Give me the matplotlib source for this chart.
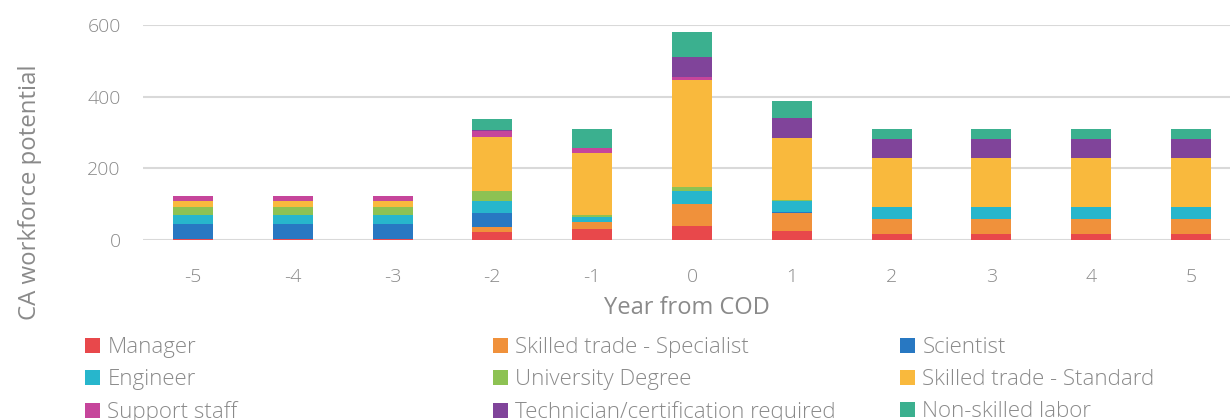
import matplotlib
matplotlib.use("Agg")
import matplotlib.pyplot as plt
from matplotlib.patches import Patch
import numpy as np

years = [-5, -4, -3, -2, -1, 0, 1, 2, 3, 4, 5]
categories = ["Manager", "Skilled trade - Specialist", "Scientist", "Engineer",
              "University Degree", "Skilled trade - Standard", "Support staff",
              "Technician/certification required", "Non-skilled labor"]
manager     = [3, 3, 3, 21, 31, 40, 26, 16, 16, 16, 16]
specialist  = [0, 0, 0, 14, 18, 61, 50, 43, 43, 43, 43]
scientist   = [41, 41, 41, 40, 2, 0, 2, 0, 0, 0, 0]
engineer    = [25, 25, 25, 35, 14, 36, 31, 34, 34, 34, 34]
university  = [22, 22, 22, 26, 6, 12, 3, 0, 0, 0, 0]
standard    = [17, 17, 17, 152, 173, 297, 174, 137, 137, 137, 137]
support     = [14, 14, 14, 16, 14, 10, 0, 0, 0, 0, 0]
technician  = [2, 2, 2, 2, 0, 54, 55, 51, 51, 51, 51]
nonskilled  = [0, 0, 0, 32, 51, 71, 47, 28, 28, 28, 28]
series = [manager, specialist, scientist, engineer, university, standard,
          support, technician, nonskilled]
colors = ["#e8484b", "#f0913b", "#2878c2", "#27b6cc", "#8dc253", "#f9b93d",
          "#c6459b", "#80449a", "#3bb08f"]

txt = "#8a8a8a"
plt.rcParams['font.family'] = ['Open Sans', 'DejaVu Sans']
plt.rcParams['font.weight'] = 'light'

fig = plt.figure(figsize=(12.3, 4.2), dpi=100)
ax = fig.add_axes([143/1230, 180/420, 1098/1230, 215/420])
ax.set_xlim(-5.5, 5.5)
ax.set_ylim(0, 600)

bottom = np.zeros(len(years))
for vals, c, name in zip(series, colors, categories):
    ax.bar(years, vals, width=0.4, bottom=bottom, color=c, label=name,
           zorder=3, linewidth=0)
    bottom += np.array(vals)

ax.set_yticks([0, 200, 400, 600])
ax.set_xticks(years)
ax.set_xticklabels([str(y) for y in years])
ax.grid(axis='y', color='#d9d9d9', linewidth=1.5, zorder=0)
for s in ax.spines.values():
    s.set_visible(False)
ax.xaxis.set_tick_params(length=0, labelsize=14, labelcolor=txt, pad=20)
ax.yaxis.set_tick_params(length=0, labelsize=14, labelcolor=txt, pad=16)
ax.set_xlabel("Year from COD", fontsize=17, color=txt)
ax.xaxis.set_label_coords((687 - 143) / 1098, (240 - 296) / 215)
ax.set_ylabel("CA workforce potential", fontsize=17.3, color=txt)
ax.yaxis.set_label_coords(-101/1098, (240 - 192) / 215)

cols = [[0, 3, 6], [1, 4, 7], [2, 5, 8]]
xs = [85/1230, 493/1230, 900/1230]
for xpos, idx in zip(xs, cols):
    handles = [Patch(facecolor=colors[i], edgecolor='none') for i in idx]
    labels = [categories[i] for i in idx]
    fig.legend(handles, labels, loc='upper left', bbox_to_anchor=(xpos, 1 - 337/420),
               frameon=False, fontsize=16, labelcolor=txt, handlelength=0.68,
               handleheight=0.68, handletextpad=0.33, labelspacing=0.5,
               borderaxespad=0, borderpad=0)

fig.savefig("out.png", dpi=100)
